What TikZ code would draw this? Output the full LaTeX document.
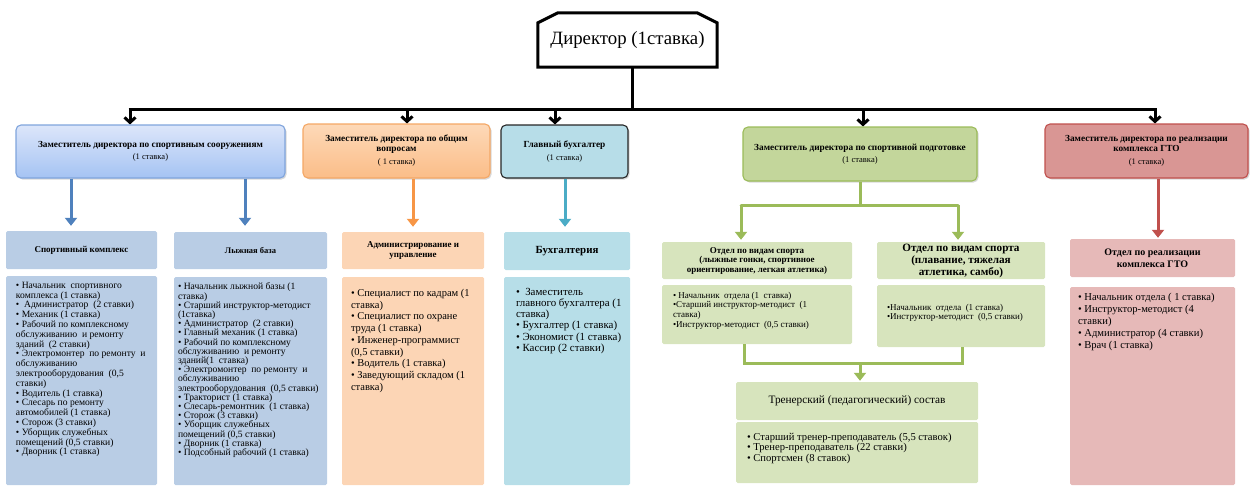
\documentclass[tikz,border=0pt]{standalone}
\usepackage{fontspec}
\setmainfont{Liberation Serif}
\usetikzlibrary{arrows.meta,calc,shadows}
\definecolor{blueA}{HTML}{DCE6FA}
\definecolor{blueB}{HTML}{A5C3F3}
\definecolor{blueD}{HTML}{7FA4DC}
\definecolor{orA}{HTML}{FDD9B8}
\definecolor{orB}{HTML}{FBBD88}
\definecolor{orD}{HTML}{F4A765}
\definecolor{acH}{HTML}{B7DDE8}
\definecolor{grH}{HTML}{C3D69B}
\definecolor{grD}{HTML}{9BBB59}
\definecolor{rdH}{HTML}{D99694}
\definecolor{rdD}{HTML}{C0504D}
\definecolor{lBlue}{HTML}{B9CDE5}
\definecolor{lOr}{HTML}{FCD5B5}
\definecolor{lAc}{HTML}{B7DEE8}
\definecolor{lGr}{HTML}{D7E4BD}
\definecolor{lRd}{HTML}{E6B9B8}
\definecolor{lnBlue}{HTML}{4F81BD}
\definecolor{lnOr}{HTML}{F79646}
\definecolor{lnAc}{HTML}{4BACC6}
\newcommand\fsz[2]{\fontsize{#1}{#2}\selectfont}
\begin{document}
\begin{tikzpicture}[x=1pt,y=-1pt,
  dep/.style={rounded corners=5pt, line width=1.1pt, align=center, inner sep=0pt,
    drop shadow={shadow xshift=1.5pt,shadow yshift=-1.5pt,opacity=0.3}},
  fbox/.style={rounded corners=1.5pt, inner sep=0pt, align=center},
  txt/.style={anchor=north west, align=left, inner sep=0pt},
  busline/.style={line width=3pt},
  barrow/.style={line width=3pt, -{Straight Barb[length=5pt,width=11pt]}},
  carrow/.style={line width=3pt, -{Triangle[length=8pt,width=12pt]}},
  cline/.style={line width=3pt}
]
\useasboundingbox (0,0) rectangle (1251,485);

% Director
\node[minimum width=179pt, minimum height=54pt, inner sep=0pt, font=\fsz{18.8}{22}] (dir) at (627.5,40) {\raisebox{-2pt}{Директор (1ставка)}};
\draw[line width=3pt, line join=miter] (dir.south west) -- ($(dir.north west)+(0,10)$) -- ($(dir.north west)+(20,0)$) -- ($(dir.north east)+(-20,0)$) -- ($(dir.north east)+(0,10)$) -- (dir.south east) -- cycle;

% Deputies
\node[dep, draw=blueD, top color=blueA, bottom color=blueB, minimum width=269pt, minimum height=53pt, font=\fsz{8.5}{9.5}] (dep1) at (150.5,151.5)
  {\fsz{9.3}{9.5}\textbf{Заместитель директора по спортивным сооружениям}\\[3pt](1 ставка)};
\node[dep, draw=orD, top color=orA, bottom color=orB, minimum width=187pt, minimum height=54pt, font=\fsz{8.5}{9.5}] (dep2) at (396.5,151)
  {\fsz{9.3}{9.5}\textbf{Заместитель директора по общим}\\\fsz{9.3}{9.5}\textbf{вопросам}\\[4pt]( 1 ставка)};
\node[dep, draw=black!85, fill=acH, minimum width=127pt, minimum height=53pt, font=\fsz{8.5}{9.5}] (dep3) at (564.5,151.5)
  {\fsz{9.3}{9.5}\textbf{Главный бухгалтер}\\[3pt](1 ставка)};
\node[dep, draw=grD, fill=grH, minimum width=234pt, minimum height=54pt, font=\fsz{8.5}{9.5}] (dep4) at (860,154)
  {\fsz{9.3}{9.5}\textbf{Заместитель директора по спортивной подготовке}\\[3pt](1 ставка)};
\node[dep, draw=rdD, fill=rdH, minimum width=203pt, minimum height=54pt, font=\fsz{8.5}{9.5}] (dep5) at (1146.5,151)
  {\fsz{9.3}{9.5}\textbf{Заместитель директора по реализации}\\\fsz{9.3}{9.5}\textbf{комплекса ГТО}\\[4pt](1 ставка)};

% Bus
\coordinate (bus) at (632,109);
\coordinate (busL) at (128.5,109);
\coordinate (busR) at (1156.5,109);
\draw[busline] (bus |- dir.south) -- (bus);
\draw[busline] (busL) -- (busR);
\coordinate (a1) at (130,109);
\coordinate (a2) at (407,109);
\coordinate (a3) at (555,109);
\coordinate (a4) at (863,109);
\coordinate (a5) at (1155,109);
\draw[barrow] (a1) -- (a1 |- dep1.north);
\draw[barrow] (a2) -- (a2 |- dep2.north);
\draw[barrow] (a3) -- (a3 |- dep3.north);
\draw[barrow] (a4) -- (a4 |- dep4.north);
\draw[barrow] (a5) -- (a5 |- dep5.north);

% Lower boxes: headers
\node[fbox, fill=lBlue, minimum width=151pt, minimum height=38pt, font=\fsz{9}{10}\bfseries] (sch) at (81.5,250) {Спортивный комплекс};
\node[fbox, fill=lBlue, minimum width=153pt, minimum height=37pt, font=\fsz{8.5}{10}\bfseries] (skh) at (250.5,250.5) {Лыжная база};
\node[fbox, fill=lOr, minimum width=142pt, minimum height=37pt, font=\fsz{9}{9.5}\bfseries] (adh) at (413,250.5) {Администрирование и\\управление};
\node[fbox, fill=lAc, minimum width=126pt, minimum height=38pt, font=\fsz{10.9}{12}\bfseries] (ach) at (567,251) {Бухгалтерия};
\node[fbox, fill=lGr, minimum width=190pt, minimum height=37pt, font=\fsz{9}{10}\bfseries] (s1h) at (757,260.5) {\raisebox{-1pt}{Отдел по видам спорта}\\(лыжные гонки, спортивное\\ориентирование, легкая атлетика)};
\node[fbox, fill=lGr, minimum width=168pt, minimum height=37pt, font=\fsz{11.2}{12}\bfseries] (s2h) at (961,260.5) {\raisebox{-2pt}{Отдел по видам спорта}\\\raisebox{-2pt}{(плавание, тяжелая}\\\raisebox{-2pt}{атлетика, самбо)}};
\node[fbox, fill=lGr, minimum width=242pt, minimum height=38pt, font=\fsz{11.3}{12}] (trh) at (857,401) {Тренерский (педагогический) состав};
\node[fbox, fill=lRd, minimum width=165pt, minimum height=38pt, font=\fsz{10}{12}\bfseries] (gth) at (1152.5,258) {Отдел по реализации\\комплекса ГТО};

% Lower boxes: bodies
\node[fbox, fill=lBlue, minimum width=151pt, minimum height=209pt] (scb) at (81.5,380.5) {};
\node[fbox, fill=lBlue, minimum width=153pt, minimum height=208pt] (skb) at (250.5,381) {};
\node[fbox, fill=lOr, minimum width=142pt, minimum height=208pt] (adb) at (413,381) {};
\node[fbox, fill=lAc, minimum width=126pt, minimum height=208pt] (acb) at (567,381) {};
\node[fbox, fill=lGr, minimum width=190pt, minimum height=59pt] (s1b) at (757,314.5) {};
\node[fbox, fill=lGr, minimum width=168pt, minimum height=62pt] (s2b) at (961,316) {};
\node[fbox, fill=lGr, minimum width=242pt, minimum height=61pt] (trb) at (857,452.5) {};
\node[fbox, fill=lRd, minimum width=165pt, minimum height=198pt] (gtb) at (1152.5,386) {};

% Body texts
\node[txt, font=\fsz{9.6}{9.8}] (sct) at ($(scb.north west)+(10,6)$) {%
• Начальник\ \ спортивного\\комплекса (1 ставка)\\•\ \ Администратор\ \ (2 ставки)\\• Механик (1 ставка)\\• Рабочий по комплексному\\обслуживанию\ \ и ремонту\\зданий\ \ (2 ставки)\\• Электромонтер\ \ по ремонту\ \ и\\обслуживанию\\электрооборудования\ \ (0,5\\ставки)\\• Водитель (1 ставка)\\• Слесарь по ремонту\\автомобилей (1 ставка)\\• Сторож (3 ставки)\\• Уборщик служебных\\помещений (0,5 ставки)\\• Дворник (1 ставка)};
\node[txt, font=\fsz{9.6}{9.2}] (skt) at ($(skb.north west)+(4,6)$) {%
• Начальник лыжной базы (1\\ставка)\\• Старший инструктор-методист\\(1ставка)\\• Администратор\ \ (2 ставки)\\• Главный механик (1 ставка)\\• Рабочий по комплексному\\обслуживанию\ \ и ремонту\\зданий(1\ \ ставка)\\• Электромонтер\ \ по ремонту\ \ и\\обслуживанию\\электрооборудования\ \ (0,5 ставки)\\• Тракторист (1 ставка)\\• Слесарь-ремонтник\ \ (1 ставка)\\• Сторож (3 ставки)\\• Уборщик служебных\\помещений (0,5 ставки)\\• Дворник (1 ставка)\\• Подсобный рабочий (1 ставка)};
\node[txt, font=\fsz{10.5}{11.75}] (adt) at ($(adb.north west)+(9,12)$) {%
• Специалист по кадрам (1\\ставка)\\• Специалист по охране\\труда (1 ставка)\\• Инженер-программист\\(0,5 ставки)\\• Водитель (1 ставка)\\• Заведующий складом (1\\ставка)};
\node[txt, font=\fsz{10.9}{11.2}] (act) at ($(acb.north west)+(12,11)$) {%
•\ \ Заместитель\\главного бухгалтера (1\\ставка)\\• Бухгалтер (1 ставка)\\• Экономист (1 ставка)\\• Кассир (2 ставки)};
\node[txt, font=\fsz{9}{9.7}] (s1t) at ($(s1b.north west)+(11,7)$) {%
• Начальник\ \ отдела (1\ \ ставка)\\•Старший инструктор-методист\ \ (1\\ставка)\\•Инструктор-методист\ \ (0,5 ставки)};
\node[txt, font=\fsz{9}{9}] (s2t) at ($(s2b.north west)+(10,19)$) {%
•Начальник\ \ отдела\ \ (1 ставка)\\•Инструктор-методист\ \ (0,5 ставки)};
\node[txt, font=\fsz{10.6}{10.5}] (trt) at ($(trb.north west)+(11,11)$) {%
• Старший тренер-преподаватель (5,5 ставок)\\• Тренер-преподаватель (22 ставки)\\• Спортсмен (8 ставок)};
\node[txt, font=\fsz{10.6}{12}] (gtt) at ($(gtb.north west)+(8,6)$) {%
• Начальник отдела ( 1 ставка)\\• Инструктор-методист (4\\ставки)\\• Администратор (4 ставки)\\• Врач (1 ставка)};

% Colored connectors
\coordinate (c1) at (71,0);
\coordinate (c2) at (245,0);
\coordinate (c3) at (413,0);
\coordinate (c4) at (565,0);
\coordinate (c5) at (1158,0);
\draw[carrow, lnBlue, shorten >=5pt] (c1 |- dep1.south) -- (c1 |- sch.north);
\draw[carrow, lnBlue, shorten >=6pt] (c2 |- dep1.south) -- (c2 |- skh.north);
\draw[carrow, lnOr, shorten >=5pt] (c3 |- dep2.south) -- (c3 |- adh.north);
\draw[carrow, lnAc, shorten >=5pt] (c4 |- dep3.south) -- (c4 |- ach.north);
\draw[carrow, rdD, shorten >=1pt] (c5 |- dep5.south) -- (c5 |- gth.north);

\coordinate (g0) at (860,205);
\coordinate (gL) at (741,205);
\coordinate (gR) at (958,205);
\draw[cline, grD] (g0 |- dep4.south) -- (g0);
\draw[cline, grD, line cap=round] (gL) -- (gR);
\draw[carrow, grD, shorten >=2pt] (gL) -- (gL |- s1h.north);
\draw[carrow, grD, shorten >=2pt] (gR) -- (gR |- s2h.north);

\coordinate (hL) at (744,363);
\coordinate (hR) at (962,363);
\coordinate (hM) at (860,363);
\draw[cline, grD, line join=miter] (hL |- s1b.south) -- (hL) -- (hR) -- (hR |- s2b.south);
\draw[carrow, grD, shorten >=1pt] (hM) -- (hM |- trh.north);
\end{tikzpicture}
\end{document}
